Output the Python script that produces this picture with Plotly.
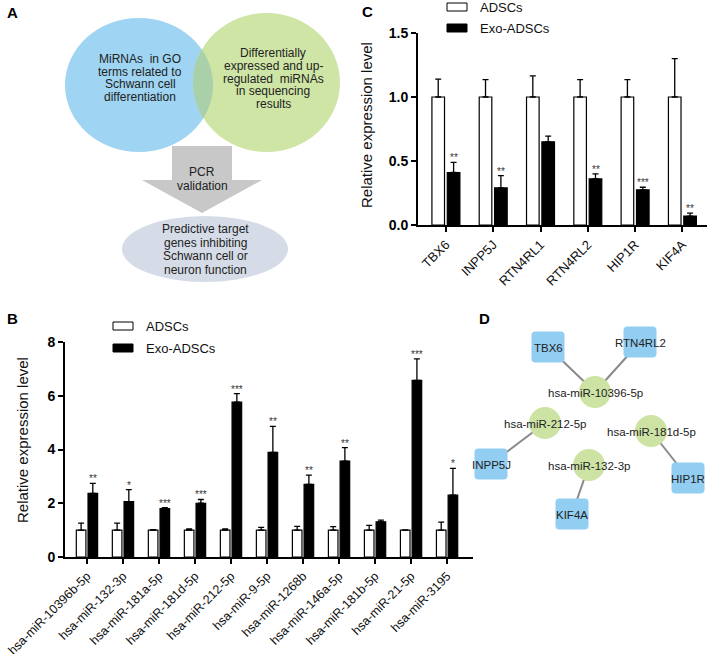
import numpy as np
import plotly.graph_objects as go

FONT = "Arial, 'Liberation Sans', sans-serif"
W, H = 708, 654

# ---------------- data: panel B ----------------
b_cats = ["hsa-miR-10396b-5p", "hsa-miR-132-3p", "hsa-miR-181a-5p", "hsa-miR-181d-5p",
          "hsa-miR-212-5p", "hsa-miR-9-5p", "hsa-miR-1268b", "hsa-miR-146a-5p",
          "hsa-miR-181b-5p", "hsa-miR-21-5p", "hsa-miR-3195"]
b_adsc = [1.0, 1.0, 1.0, 1.0, 1.0, 1.0, 1.0, 1.0, 1.0, 1.0, 1.0]
b_adsc_err = [0.26, 0.26, 0.02, 0.05, 0.05, 0.10, 0.14, 0.13, 0.18, 0.01, 0.30]
b_exo = [2.37, 2.06, 1.80, 2.00, 5.76, 3.89, 2.70, 3.57, 1.31, 6.57, 2.30]
b_exo_err = [0.37, 0.45, 0.04, 0.14, 0.32, 0.97, 0.35, 0.50, 0.06, 0.80, 1.00]
b_stars = ["**", "*", "***", "***", "***", "**", "**", "**", "", "***", "*"]
b_yticks = [0, 2, 4, 6, 8]

# ---------------- data: panel C ----------------
c_genes = ["TBX6", "INPP5J", "RTN4RL1", "RTN4RL2", "HIP1R", "KIF4A"]
c_adsc = [1.0, 1.0, 1.0, 1.0, 1.0, 1.0]
c_adsc_err = [0.14, 0.135, 0.165, 0.135, 0.135, 0.30]
c_exo = [0.41, 0.29, 0.65, 0.36, 0.275, 0.07]
c_exo_err = [0.08, 0.095, 0.045, 0.04, 0.02, 0.022]
c_stars = ["**", "**", "", "**", "***", "**"]
c_yticks = [0.0, 0.5, 1.0, 1.5]

series_names = ["ADSCs", "Exo-ADSCs"]

# ---------------- data: panel A (flow diagram text) ----------------
a_blue_text = ["MiRNAs  in GO", "terms related to", "Schwann cell", "differentiation"]
a_green_text = ["Differentially", "expressed and up-", "regulated  miRNAs", "in sequencing", "results"]
a_arrow_text = ["PCR", "validation"]
a_ellipse_text = ["Predictive target", "genes inhibiting", "Schwann cell or", "neuron function"]

# ---------------- data: panel D (network) ----------------
net_nodes = ["TBX6", "RTN4RL2", "INPP5J", "KIF4A", "HIP1R",
             "hsa-miR-10396-5p", "hsa-miR-212-5p", "hsa-miR-132-3p", "hsa-miR-181d-5p"]
net_kind = ["gene", "gene", "gene", "gene", "gene", "mirna", "mirna", "mirna", "mirna"]
net_x = [548, 640, 491, 572, 688, 595, 545, 589, 651]
net_y = [347, 342, 464, 514, 478, 392, 423, 465, 431]
net_edges = [("TBX6", "hsa-miR-10396-5p"), ("RTN4RL2", "hsa-miR-10396-5p"),
             ("INPP5J", "hsa-miR-212-5p"), ("KIF4A", "hsa-miR-132-3p"),
             ("HIP1R", "hsa-miR-181d-5p")]

fig = go.Figure()

def err(a):
    return dict(type="data", symmetric=False, array=a, arrayminus=[0] * len(a),
                color="black", thickness=1.3, width=3)

# Panel B bars
fig.add_trace(go.Bar(x=b_cats, y=b_adsc, name=series_names[0], error_y=err(b_adsc_err),
                     marker=dict(color="white", line=dict(color="black", width=1.2)),
                     xaxis="x", yaxis="y", offsetgroup="a", showlegend=False))
fig.add_trace(go.Bar(x=b_cats, y=b_exo, name=series_names[1], error_y=err(b_exo_err),
                     marker=dict(color="black", line=dict(color="black", width=1.2)),
                     xaxis="x", yaxis="y", offsetgroup="b", showlegend=False))
# Panel C bars
fig.add_trace(go.Bar(x=c_genes, y=c_adsc, name=series_names[0], error_y=err(c_adsc_err),
                     marker=dict(color="white", line=dict(color="black", width=1.2)),
                     xaxis="x2", yaxis="y2", offsetgroup="a", showlegend=False))
fig.add_trace(go.Bar(x=c_genes, y=c_exo, name=series_names[1], error_y=err(c_exo_err),
                     marker=dict(color="black", line=dict(color="black", width=1.2)),
                     xaxis="x2", yaxis="y2", offsetgroup="b", showlegend=False))

shapes = []
annotations = []

def px_ann(x, y, text, size=12, color="#222", bold=False, angle=0, xanchor="center", yanchor="middle"):
    annotations.append(dict(x=x, y=y, xref="x3", yref="y3", text=text, showarrow=False,
                            textangle=angle, xanchor=xanchor, yanchor=yanchor,
                            font=dict(family=FONT, size=size, color=color,
                                      weight="bold" if bold else "normal")))

# stars
for cat, v, e, s in zip(b_cats, b_exo, b_exo_err, b_stars):
    if s:
        annotations.append(dict(x=cat, y=v + e, xref="x", yref="y", text=s, showarrow=False,
                                xshift=6, yshift=-3, yanchor="bottom",
                                font=dict(family=FONT, size=10, color="#333")))
for cat, v, e, s in zip(c_genes, c_exo, c_exo_err, c_stars):
    if s:
        annotations.append(dict(x=cat, y=v + e, xref="x2", yref="y2", text=s, showarrow=False,
                                xshift=8, yshift=-3, yanchor="bottom",
                                font=dict(family=FONT, size=10, color="#333")))

# ---------------- Panel A ----------------
blue = (65, 18, 213, 152)
green = (193, 13, 340, 152)
shapes.append(dict(type="circle", xref="x3", yref="y3", x0=blue[0], y0=blue[1], x1=blue[2], y1=blue[3],
                   fillcolor="#9FD4F2", line=dict(width=0)))
shapes.append(dict(type="circle", xref="x3", yref="y3", x0=green[0], y0=green[1], x1=green[2], y1=green[3],
                   fillcolor="#CFE5A6", line=dict(width=0)))

def ell_pts(b, n=400):
    cx, cy = (b[0] + b[2]) / 2, (b[1] + b[3]) / 2
    rx, ry = (b[2] - b[0]) / 2, (b[3] - b[1]) / 2
    t = np.linspace(0, 2 * np.pi, n, endpoint=False)
    return cx + rx * np.cos(t), cy + ry * np.sin(t)

def inside(b, x, y):
    cx, cy = (b[0] + b[2]) / 2, (b[1] + b[3]) / 2
    rx, ry = (b[2] - b[0]) / 2, (b[3] - b[1]) / 2
    return ((x - cx) / rx) ** 2 + ((y - cy) / ry) ** 2 <= 1

bx, by = ell_pts(blue)
m = inside(green, bx, by)
arc1 = sorted(zip(bx[m], by[m]), key=lambda p: p[1])
gx, gy = ell_pts(green)
m2 = inside(blue, gx, gy)
arc2 = sorted(zip(gx[m2], gy[m2]), key=lambda p: -p[1])
pts = arc1 + arc2
lens = "M " + " L ".join(f"{x:.2f},{y:.2f}" for x, y in pts) + " Z"
shapes.append(dict(type="path", xref="x3", yref="y3", path=lens, fillcolor="#A9D0A8", line=dict(width=0)))

arrow = [(172, 146), (232, 146), (232, 180), (262, 180), (202, 213), (142, 180), (172, 180)]
shapes.append(dict(type="path", xref="x3", yref="y3",
                   path="M " + " L ".join(f"{x},{y}" for x, y in arrow) + " Z",
                   fillcolor="#C8C8C8", line=dict(width=0)))
shapes.append(dict(type="circle", xref="x3", yref="y3", x0=122, y0=216, x1=288, y1=282,
                   fillcolor="#D6DCE7", line=dict(width=0)))

for i, t in enumerate(a_blue_text):
    px_ann(140, 59 + 12.7 * i, t, size=12)
for i, t in enumerate(a_green_text):
    px_ann(273, 53 + 12.8 * i, t, size=12)
for i, t in enumerate(a_arrow_text):
    px_ann(202, 172 + 14 * i, t, size=12)
for i, t in enumerate(a_ellipse_text):
    px_ann(205, 229 + 13.7 * i, t, size=12)

# ---------------- Panel D ----------------
pos = {n: (x, y) for n, x, y in zip(net_nodes, net_x, net_y)}
for a, b in net_edges:
    shapes.append(dict(type="line", xref="x3", yref="y3", x0=pos[a][0], y0=pos[a][1],
                       x1=pos[b][0], y1=pos[b][1], line=dict(color="#8A8A8A", width=2)))

def rrect(cx, cy, w, h, r):
    x0, x1, y0, y1 = cx - w / 2, cx + w / 2, cy - h / 2, cy + h / 2
    return (f"M {x0+r},{y0} L {x1-r},{y0} Q {x1},{y0} {x1},{y0+r} L {x1},{y1-r} "
            f"Q {x1},{y1} {x1-r},{y1} L {x0+r},{y1} Q {x0},{y1} {x0},{y1-r} "
            f"L {x0},{y0+r} Q {x0},{y0} {x0+r},{y0} Z")

for n, k in zip(net_nodes, net_kind):
    x, y = pos[n]
    if k == "gene":
        shapes.append(dict(type="path", xref="x3", yref="y3", path=rrect(x, y, 33, 31, 4),
                           fillcolor="#92CDF2", line=dict(width=0)))
    else:
        shapes.append(dict(type="circle", xref="x3", yref="y3", x0=x - 16, y0=y - 16, x1=x + 16, y1=y + 16,
                           fillcolor="#CDE3A4", line=dict(width=0)))
for n in net_nodes:
    x, y = pos[n]
    px_ann(x, y + 1, n, size=11.5, color="#222")

# ---------------- legends ----------------
def legend(x, y1, y2):
    shapes.append(dict(type="rect", xref="x3", yref="y3", x0=x, y0=y1 - 4, x1=x + 20, y1=y1 + 4,
                       fillcolor="white", line=dict(color="black", width=1)))
    shapes.append(dict(type="rect", xref="x3", yref="y3", x0=x, y0=y2 - 4, x1=x + 20, y1=y2 + 4,
                       fillcolor="black", line=dict(color="black", width=1)))
    px_ann(x + 31, y1, series_names[0], size=13, color="#111", xanchor="left")
    px_ann(x + 31, y2, series_names[1], size=13, color="#111", xanchor="left")

legend(113, 326, 348)
legend(447, 7, 28)

# axis titles
px_ann(22, 440, "Relative expression level", size=15, color="#111", angle=-90)
px_ann(366, 125, "Relative expression level", size=15, color="#111", angle=-90)

# panel letters
px_ann(12, 12, "A", size=15, color="black", bold=True)
px_ann(12, 318, "B", size=15, color="black", bold=True)
px_ann(367, 11, "C", size=15, color="black", bold=True)
px_ann(484, 318, "D", size=15, color="black", bold=True)

axis_common = dict(showline=True, linecolor="black", linewidth=2, ticks="outside",
                   tickcolor="black", showgrid=False, zeroline=False, automargin=False)

fig.update_layout(
    template="none",
    width=W, height=H, margin=dict(l=0, r=0, t=0, b=0, pad=0), autosize=False,
    paper_bgcolor="white", plot_bgcolor="rgba(0,0,0,0)",
    barmode="group", bargap=0.35, bargroupgap=0.18,
    font=dict(family=FONT, color="black"),
    xaxis=dict(domain=[65 / W, 473 / W], anchor="y", type="category", range=[-0.61, 10.72],
               tickangle=-45, ticklen=5, tickwidth=1.5,
               tickfont=dict(family=FONT, size=12.5, color="#111"), **axis_common),
    yaxis=dict(domain=[1 - 557 / H, 1 - 342 / H], anchor="x", range=[0, 8], tickvals=b_yticks,
               ticklen=5, tickwidth=2, tickfont=dict(family=FONT, size=14, weight="bold"), **axis_common),
    xaxis2=dict(domain=[418 / W, 707 / W], anchor="y2", type="category", range=[-0.59, 5.52],
                tickangle=-45, ticklen=5, tickwidth=1.5,
                tickfont=dict(family=FONT, size=13, color="#111"), **axis_common),
    yaxis2=dict(domain=[1 - 225 / H, 1 - 33 / H], anchor="x2", range=[0, 1.5], tickvals=c_yticks,
                tickformat=".1f", ticklen=5, tickwidth=2,
                tickfont=dict(family=FONT, size=14, weight="bold"), **axis_common),
    xaxis3=dict(domain=[0, 1], anchor="y3", range=[0, W], visible=False, fixedrange=True, automargin=False),
    yaxis3=dict(domain=[0, 1], anchor="x3", range=[H, 0], visible=False, fixedrange=True, automargin=False),
    shapes=shapes, annotations=annotations,
)

fig.write_html("out.html", config={"displayModeBar": False},
               post_script="document.body.style.margin='0px';document.body.style.padding='0px';")
